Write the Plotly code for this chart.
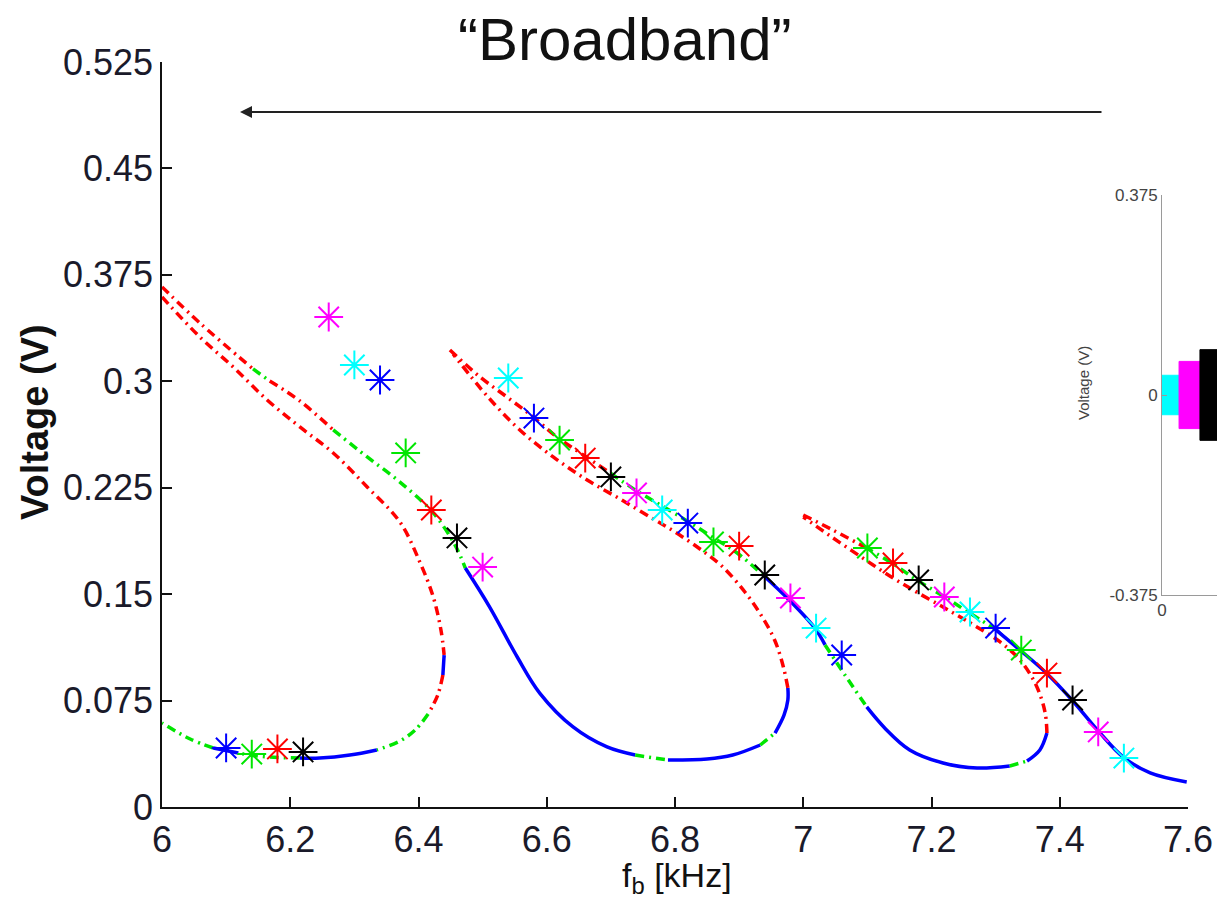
import plotly.graph_objects as go

W, H = 1217, 900

# ---------------- data ----------------
x_ticks = [6, 6.2, 6.4, 6.6, 6.8, 7, 7.2, 7.4, 7.6]
x_ticklabels = ["6", "6.2", "6.4", "6.6", "6.8", "7", "7.2", "7.4", "7.6"]
y_ticks = [0, 0.075, 0.15, 0.225, 0.3, 0.375, 0.45, 0.525]
y_ticklabels = ["0", "0.075", "0.15", "0.225", "0.3", "0.375", "0.45", "0.525"]

# branch 1 : left loop (upper-left start -> turning point -> lower branch)
b1_f = [6.000, 6.059, 6.111, 6.164, 6.215, 6.267, 6.320, 6.371, 6.402, 6.423, 6.435,
        6.440, 6.438, 6.430, 6.415, 6.395, 6.371, 6.335, 6.293, 6.246, 6.215, 6.168,
        6.137, 6.119, 6.080, 6.044, 6.000]
b1_v = [0.3594, 0.3312, 0.3101, 0.2868, 0.2678, 0.2495, 0.2255, 0.2008, 0.1727, 0.1480, 0.1247,
        0.1071, 0.0930, 0.0789, 0.0655, 0.0543, 0.0465, 0.0402, 0.0366, 0.0345, 0.0345, 0.0352,
        0.0366, 0.0381, 0.0416, 0.0479, 0.0592]
b1_s = list("rrrrrrrrrrrbrrgggbbbgggbgg-")

# branch 2 : upper-left branch -> drop -> middle valley -> middle unstable return
b2_f = [6.000, 6.059, 6.142, 6.168, 6.215, 6.267, 6.320, 6.371, 6.423, 6.457,
        6.473, 6.511, 6.554, 6.589, 6.641, 6.694, 6.738, 6.789, 6.850, 6.890,
        6.933, 6.956, 6.970, 6.976, 6.976, 6.969, 6.956, 6.936, 6.909, 6.873,
        6.839, 6.800, 6.766, 6.714, 6.663, 6.610, 6.558, 6.507, 6.454]
b2_v = [0.3665, 0.3411, 0.3087, 0.3002, 0.2861, 0.2657, 0.2467, 0.2290, 0.2072, 0.1846,
        0.1684, 0.1409, 0.1057, 0.0803, 0.0564, 0.0423, 0.0366, 0.0331, 0.0338, 0.0366,
        0.0437, 0.0521, 0.0648, 0.0754, 0.0839, 0.0987, 0.1170, 0.1339, 0.1515, 0.1698,
        0.1818, 0.1938, 0.2030, 0.2171, 0.2304, 0.2467, 0.2657, 0.2896, 0.3192]
b2_s = list("rrgrrgggggbbbbbbgbbbgbbbrrrrrrrrrrrrrr-")

# branch 3 : middle upper branch -> drop -> right valley -> right unstable return
b3_f = [6.449, 6.496, 6.538, 6.579, 6.616, 6.657, 6.699, 6.738, 6.780, 6.819,
        6.858, 6.897, 6.937, 6.978, 7.018, 7.034, 7.065, 7.099, 7.127, 7.166,
        7.218, 7.271, 7.322, 7.349, 7.369, 7.380, 7.377, 7.363, 7.338, 7.307,
        7.268, 7.229, 7.182, 7.135, 7.088, 7.042, 7.000]
b3_v = [0.3221, 0.3030, 0.2889, 0.2748, 0.2607, 0.2481, 0.2354, 0.2234, 0.2121, 0.2016,
        0.1903, 0.1790, 0.1635, 0.1459, 0.1261, 0.1142, 0.0930, 0.0705, 0.0557, 0.0402,
        0.0310, 0.0275, 0.0289, 0.0324, 0.0402, 0.0521, 0.0669, 0.0860, 0.1036, 0.1163,
        0.1276, 0.1381, 0.1501, 0.1628, 0.1769, 0.1910, 0.2044]
b3_s = list("rrrrrrggggggbbbggbbbbbgbbrrrrrrrrrrr-")

# branch 4 : right upper branch down to 7.6 kHz
b4_f = [7.000, 7.046, 7.096, 7.138, 7.177, 7.218, 7.257, 7.299, 7.338, 7.379,
        7.419, 7.460, 7.499, 7.541, 7.598]
b4_v = [0.2058, 0.1952, 0.1832, 0.1720, 0.1600, 0.1487, 0.1374, 0.1254, 0.1106, 0.0944,
        0.0754, 0.0536, 0.0352, 0.0240, 0.0176]
b4_s = list("rrgggggbbbbbbb-")

# simulated sweep points (asterisks)
star_f = [6.10, 6.14, 6.18, 6.22, 6.26, 6.30, 6.34, 6.38, 6.42, 6.46, 6.50, 6.54,
          6.58, 6.62, 6.66, 6.70, 6.74, 6.78, 6.82, 6.86, 6.90, 6.94, 6.98, 7.02,
          7.06, 7.10, 7.14, 7.18, 7.22, 7.26, 7.30, 7.34, 7.38, 7.42, 7.46, 7.50]
star_v = [0.0416, 0.0373, 0.0409, 0.0388, 0.3453, 0.3115, 0.3009, 0.2495, 0.2093, 0.1896, 0.1691, 0.3023,
          0.2741, 0.2586, 0.2459, 0.2326, 0.2213, 0.2093, 0.2001, 0.1868, 0.1839, 0.1635, 0.1473, 0.1261,
          0.1071, 0.1825, 0.1720, 0.1600, 0.1480, 0.1374, 0.1261, 0.1106, 0.0944, 0.0754, 0.0529, 0.0345]
star_cycle = ["#0000FF", "#00E600", "#FF0000", "#000000", "#FF00FF", "#00FFFF"]

# inset: time signal envelope segments
inset_t = [0.0, 0.31, 0.69, 1.3]
inset_amp = [0.037, 0.063, 0.085]
inset_colors = ["#00FFFF", "#FF00FF", "#000000"]

# ---------------- figure ----------------
DASHDOT = "9px,5px,2px,5px"
STYLE = {
    "b": dict(color="#0000FF", dash="solid"),
    "r": dict(color="#FF0000", dash=DASHDOT),
    "g": dict(color="#00E600", dash=DASHDOT),
}

fig = go.Figure()


def add_branch(f, v, s):
    n = len(f)
    i = 0
    while i < n - 1:
        j = i
        while j + 1 < n - 1 and s[j + 1] == s[i]:
            j += 1
        fig.add_trace(go.Scatter(
            x=f[i:j + 2], y=v[i:j + 2], mode="lines",
            line=dict(width=3.5, shape="spline", smoothing=1.0, **STYLE[s[i]]),
            hoverinfo="skip", showlegend=False, xaxis="x", yaxis="y"))
        i = j + 1


for f, v, s in [(b1_f, b1_v, b1_s), (b2_f, b2_v, b2_s), (b3_f, b3_v, b3_s), (b4_f, b4_v, b4_s)]:
    add_branch(f, v, s)

star_c = [star_cycle[i % len(star_cycle)] for i in range(len(star_f))]
fig.add_trace(go.Scatter(
    x=star_f, y=star_v, mode="markers",
    marker=dict(symbol="asterisk-open", size=24, color=star_c, line=dict(width=2, color=star_c)),
    showlegend=False, xaxis="x", yaxis="y"))

# inset traces
for k in range(len(inset_amp)):
    t0, t1, a = inset_t[k], inset_t[k + 1], inset_amp[k]
    fig.add_trace(go.Scatter(
        x=[t0, t0, t1, t1, t0], y=[-a, a, a, -a, -a], mode="lines",
        fill="toself", fillcolor=inset_colors[k], line=dict(color=inset_colors[k], width=1),
        showlegend=False, xaxis="x2", yaxis="y2", hoverinfo="skip"))

FONT = "Liberation Sans, Arial, Helvetica, sans-serif"
axis_common = dict(showline=True, linecolor="#111111", linewidth=1.6, ticks="inside",
                   ticklen=10, tickwidth=1.5, tickcolor="#111111", showgrid=False,
                   zeroline=False, tickfont=dict(family=FONT, size=36, color="#1a1a2a"))

fig.update_layout(
    width=W, height=H,
    margin=dict(l=0, r=0, t=0, b=0, pad=0, autoexpand=False),
    paper_bgcolor="white", plot_bgcolor="white",
    showlegend=False,
    xaxis=dict(domain=[162 / W, 1188 / W], range=[6, 7.6], tickvals=x_ticks,
               ticktext=x_ticklabels, anchor="y", **axis_common),
    yaxis=dict(domain=[1 - 807 / H, 1 - 62 / H], range=[0, 0.525], tickvals=y_ticks,
               ticktext=y_ticklabels, anchor="x", **axis_common),
    xaxis2=dict(domain=[1162 / W, 1.0], range=[0, 1], anchor="y2", showline=True,
                linecolor="#9a9a9a", linewidth=1, ticks="", tickvals=[0], ticktext=["0"],
                showgrid=False, zeroline=False,
                tickfont=dict(family=FONT, size=17, color="#444444")),
    yaxis2=dict(domain=[1 - 595 / H, 1 - 195 / H], range=[-0.375, 0.375], anchor="x2",
                showline=True, linecolor="#9a9a9a", linewidth=1, ticks="inside", ticklen=5,
                tickcolor="#9a9a9a", tickvals=[-0.375, 0, 0.375],
                ticktext=["-0.375", "0", "0.375"], showgrid=False, zeroline=False,
                tickfont=dict(family=FONT, size=17, color="#444444")),
)

fig.add_annotation(text="\u201cBroadband\u201d", x=625 / W, y=1 - 40 / H, xref="paper", yref="paper",
                   showarrow=False, font=dict(family=FONT, size=60, color="#111111"),
                   xanchor="center", yanchor="middle")
fig.add_annotation(text="", x=240 / W, y=1 - 112 / H, xref="paper", yref="paper",
                   ax=863, ay=0, showarrow=True, arrowhead=2, arrowsize=1.2, arrowwidth=2,
                   arrowcolor="#222222", standoff=0, startstandoff=0)
fig.add_annotation(text="<b>Voltage (V)</b>", x=35 / W, y=1 - 422 / H, xref="paper", yref="paper",
                   showarrow=False, textangle=-90, font=dict(family=FONT, size=38, color="#111111"),
                   xanchor="center", yanchor="middle")
fig.add_annotation(text="f<sub>b</sub> [kHz]", x=677 / W, y=1 - 855 / H, xref="paper", yref="paper",
                   showarrow=False, font=dict(family=FONT, size=34, color="#111111"),
                   xanchor="center", yanchor="top", borderpad=0)
fig.add_annotation(text="Voltage (V)", x=1083 / W, y=1 - 383 / H, xref="paper", yref="paper",
                   showarrow=False, textangle=-90, font=dict(family=FONT, size=15, color="#444444"),
                   xanchor="center", yanchor="middle")

fig.write_html("out.html")
